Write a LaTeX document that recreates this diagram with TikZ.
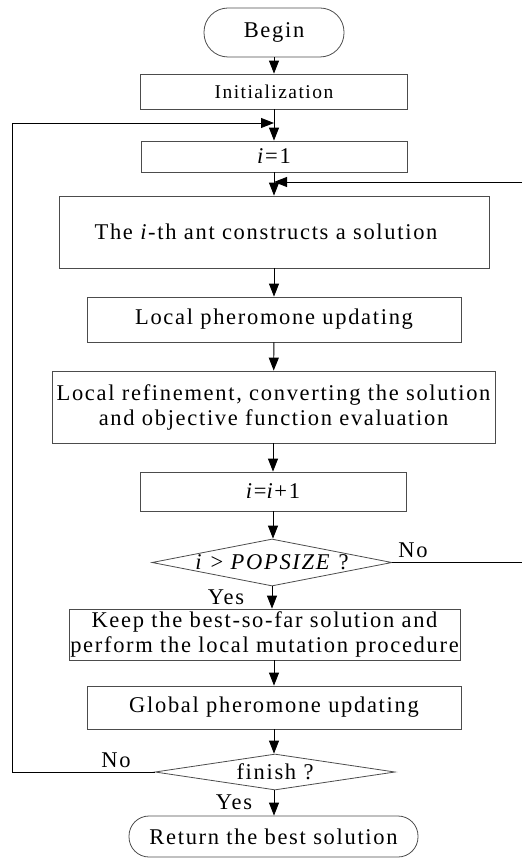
\documentclass[tikz,border=0pt]{standalone}
\usepackage{fontspec}
\setmainfont{Liberation Serif}[LetterSpace=7.5]
\usetikzlibrary{arrows.meta,shapes.geometric}
\begin{document}
\begin{tikzpicture}[x=1pt,y=-1pt,
  font=\fontsize{22.5}{25}\selectfont,
  box/.style={draw=black!70, line width=0.8pt, rectangle, inner sep=0pt, align=center},
  term/.style={box, rounded corners=#1},
  dia/.style={draw=black!70, line width=0.8pt, diamond, inner sep=0pt},
  arr/.style={-{Triangle[length=13pt,width=10pt]}, line width=0.9pt, black},
  conn/.style={line width=0.9pt, black},
  lab/.style={inner sep=0pt}]
\useasboundingbox (0,0) rectangle (522,858);

\node[term=24pt, minimum width=140pt, minimum height=49pt] (begin) at (274,32.5) {Begin};
\node[box, minimum width=267pt, minimum height=35pt, font=\fontsize{19.5}{22}\selectfont] (init) at (274,91.5) {Initialization};
\node[box, minimum width=266pt, minimum height=31pt] (i1) at (274,156.5) {\textit{i}=1};
\node[box, minimum width=430pt, minimum height=72pt] (cons) at (274,232) {The \textit{i}-th ant constructs a solution\hspace*{16pt}};
\node[box, minimum width=374pt, minimum height=45pt] (lpu) at (274,319.5) {Local pheromone updating};
\node[box, minimum width=443pt, minimum height=72pt] (ref) at (273.5,407) {Local refinement, converting the solution\\and objective function evaluation};
\node[box, minimum width=266pt, minimum height=39pt] (inc) at (273,491.5) {\textit{i}=\textit{i}+1};
\node[dia, minimum width=240pt, minimum height=47pt] (d1) at (272,562.5) {};
\node[lab] (d1t) at (d1) {\textit{i} > \textit{POPSIZE} ?};
\node[box, minimum width=391pt, minimum height=51pt] (keep) at (264.5,634.5) {Keep the best-so-far solution and\\perform the local mutation procedure};
\node[box, minimum width=374pt, minimum height=43pt] (gpu) at (274,707.5) {Global pheromone updating};
\node[dia, minimum width=240pt, minimum height=36pt] (fin) at (275,772) {};
\node[lab] (fint) at (fin) {finish ?};
\node[term=20pt, minimum width=289pt, minimum height=41pt] (ret) at (273.5,836.5) {Return the best solution};

\coordinate (j1) at (274,123);
\coordinate (lc) at (12,123);
\coordinate (j2) at (274,182);
\coordinate (r2) at (522,182);
\coordinate (r1) at (522,562.5);

\draw[arr] (begin) -- (init);
\draw[arr] (init) -- (i1);
\draw[arr] (i1.south) -- (i1.south |- cons.north);
\draw[arr] (cons) -- (lpu);
\draw[arr] (lpu) -- (ref);
\draw[arr] (ref.south -| inc.south) -- (inc.north);
\draw[arr] (inc.south) -- (inc.south |- d1.north);
\draw[arr] (d1.south) -- (d1.south |- keep.north);
\draw[arr] (gpu.north |- keep.south) -- (gpu.north);
\draw[arr] (gpu.south) -- (gpu.south |- fin.north);
\draw[arr] (fin.south -| gpu.south) -- (gpu.south |- ret.north);

\draw[arr] (fin.west) -| (lc) -- (j1);
\draw[conn] (d1.east) -- (r1);
\draw[arr] (r2) -- (j2);

\node[lab] (no1) at (413,550) {No};
\node[lab] (yes1) at (226,597) {Yes};
\node[lab] (no2) at (116,760) {No};
\node[lab] (yes2) at (234,802) {Yes};
\end{tikzpicture}
\end{document}
